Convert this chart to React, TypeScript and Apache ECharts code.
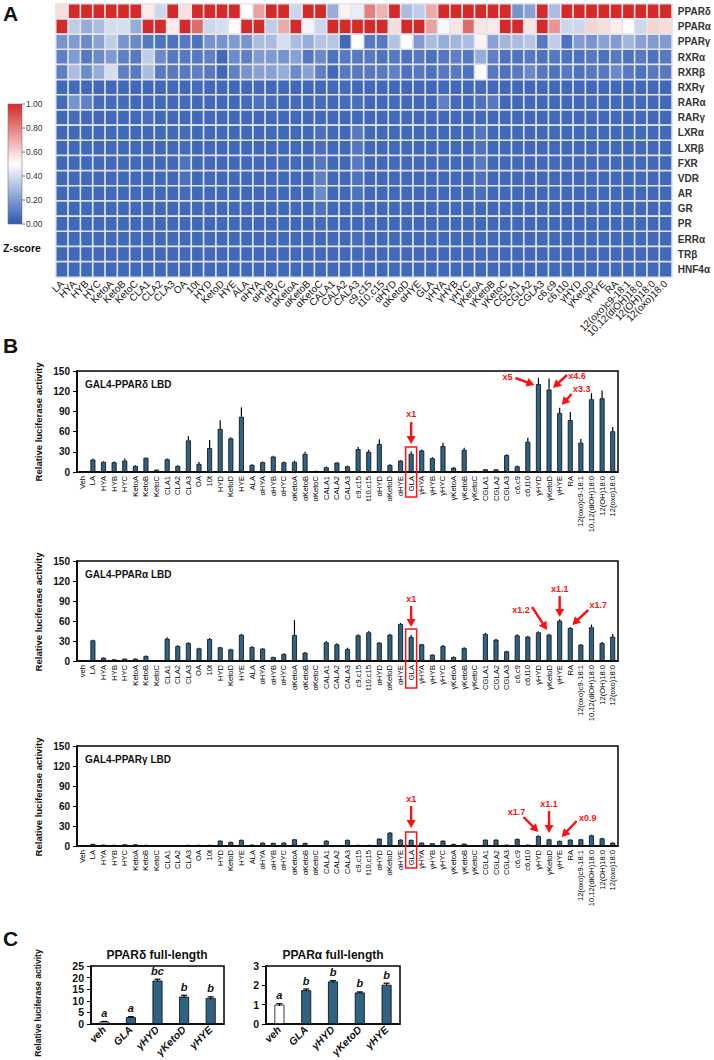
import React, { useEffect, useRef } from "react";
import * as echarts from "echarts";

const FONT = "'Liberation Sans', Arial, Helvetica, sans-serif";
const RED = "#ff1010";
const BAR = "#2f6283";

// ---------------- Panel A: heatmap ----------------
const heatCols = ["LA","HYA","HYB","HYC","KetoA","KetoB","KetoC","CLA1","CLA2","CLA3","OA","10t","HYD","KetoD","HYE","ALA","αHYA","αHYB","αHYC","αKetoA","αKetoB","αKetoC","CALA1","CALA2","CALA3","c9,c15","t10,c15","αHYD","αKetoD","αHYE","GLA","γHYA","γHYB","γHYC","γKetoA","γKetoB","γKetoC","CGLA1","CGLA2","CGLA3","c6,c9","c6,t10","γHYD","γKetoD","γHYE","RA","12(oxo)c9-18:1","10,12(diOH)18:0","12(OH)18:0","12(oxo)18:0"];
const heatRows = ["PPARδ","PPARα","PPARγ","RXRα","RXRβ","RXRγ","RARα","RARγ","LXRα","LXRβ","FXR","VDR","AR","GR","PR","ERRα","TRβ","HNF4α"];

const zPPARd = [0.58,1,1,1,1,1,1,0.55,0.38,1, 0.57,1,1,1,1,0.5,0.72,1,1,0.38, 1,1,0.25,0.53,0.45,0.8,0.68,1,0.3,0.35, 0.7,1,1,1,1,1,1,0.18,0.22,1, 0.3,1,1,1,1,1,1,1,1,1];
const zPPARa = [1,0.35,0.25,0.3,0.4,0.4,0.25,1,1,0.55, 1,0.85,0.38,0.4,0.5,1,1,0.35,0.7,1, 0.47,0.38,1,1,1,1,1,0.58,1,1, 0.72,0.48,0.56,0.85,0.56,0.55,1,1,0.56,1, 0.75,0.38,0.38,0.6,0.58,0.54,0.5,0.38,0.6,0.58];
const zPPARg = [0.18,0.2,0.15,0.22,0.35,0.18,0.15,0.1,0.08,0.08, 0.1,0.08,0.18,0.18,0.2,0.18,0.3,0.3,0.4,0.3, 0.25,0.32,0.33,0.05,0.5,0.1,0.1,0.32,0.5,0.2, 0.3,0.25,0.28,0.3,0.53,0.22,0.28,0.3,0.33,0.1, 0.35,0.08,0.2,0.18,0.22,0.2,0.28,0.22,0.2,0.2];
const zRXRa = [0.12,0.2,0.1,0.15,0.2,0.12,0.1,0.35,0.15,0.1, 0.1,0.1,0.12,0.05,0.15,0.12,0.2,0.2,0.18,0.22, 0.1,0.15,0.08,0.1,0.1,0.1,0.08,0.1,0.08,0.1, 0.08,0.1,0.12,0.1,0.25,0.12,0.08,0.08,0.1,0.08, 0.1,0.08,0.08,0.1,0.08,0.1,0.08,0.1,0.08,0.1];
const zRXRb = [0.12,0.3,0.15,0.25,0.4,0.12,0.1,0.3,0.1,0.1, 0.1,0.12,0.1,0.05,0.12,0.18,0.22,0.22,0.25,0.15, 0.22,0.12,0.05,0.1,0.1,0.1,0.1,0.12,0.08,0.1, 0.08,0.1,0.1,0.08,0.5,0.1,0.08,0.1,0.15,0.1, 0.08,0.1,0.08,0.1,0.1,0.15,0.1,0.08,0.1,0.1];
const zRXRg = [0.05,0.06,0.05,0.05,0.05,0.05,0.05,0.05,0.05,0.05, 0.05,0.06,0.05,0.05,0.05,0.05,0.06,0.05,0.05,0.05, 0.05,0.05,0.05,0.06,0.05,0.05,0.05,0.05,0.05,0.05, 0.05,0.05,0.05,0.05,0.06,0.05,0.05,0.05,0.05,0.05, 0.05,0.05,0.05,0.05,0.05,0.05,0.05,0.05,0.05,0.05];
const zRARa = [0.06,0.18,0.12,0.06,0.06,0.06,0.05,0.06,0.05,0.05, 0.06,0.05,0.05,0.05,0.05,0.06,0.08,0.06,0.05,0.06, 0.05,0.06,0.05,0.06,0.07,0.05,0.05,0.06,0.05,0.05, 0.05,0.12,0.06,0.05,0.08,0.1,0.05,0.05,0.05,0.05, 0.05,0.05,0.05,0.06,0.05,0.05,0.05,0.05,0.05,0.05];
const zRARg = [0.05,0.06,0.05,0.05,0.05,0.05,0.05,0.07,0.05,0.05, 0.05,0.05,0.05,0.05,0.05,0.05,0.05,0.05,0.05,0.05, 0.05,0.05,0.05,0.05,0.05,0.05,0.05,0.05,0.05,0.05, 0.05,0.05,0.05,0.05,0.05,0.05,0.05,0.05,0.05,0.05, 0.05,0.05,0.05,0.05,0.05,0.05,0.05,0.05,0.05,0.05];
const zLXRa = [0.05,0.05,0.05,0.05,0.05,0.05,0.05,0.05,0.05,0.05, 0.06,0.05,0.05,0.05,0.05,0.05,0.05,0.05,0.05,0.05, 0.05,0.07,0.05,0.05,0.1,0.05,0.05,0.05,0.05,0.05, 0.05,0.05,0.05,0.05,0.09,0.05,0.05,0.05,0.05,0.05, 0.05,0.05,0.05,0.05,0.05,0.05,0.05,0.05,0.05,0.05];
const zLXRb = [0.05,0.05,0.05,0.05,0.05,0.05,0.05,0.05,0.05,0.05, 0.06,0.05,0.05,0.05,0.05,0.05,0.05,0.05,0.05,0.05, 0.05,0.07,0.05,0.05,0.09,0.05,0.05,0.05,0.05,0.05, 0.05,0.05,0.05,0.05,0.08,0.05,0.05,0.05,0.05,0.05, 0.05,0.05,0.05,0.05,0.05,0.05,0.05,0.05,0.05,0.05];
const zFXR = [0.05,0.05,0.05,0.05,0.05,0.05,0.05,0.05,0.05,0.05, 0.08,0.05,0.05,0.05,0.05,0.05,0.05,0.05,0.05,0.05, 0.05,0.09,0.05,0.05,0.1,0.05,0.05,0.05,0.05,0.05, 0.05,0.05,0.05,0.05,0.1,0.05,0.05,0.05,0.05,0.05, 0.05,0.05,0.05,0.05,0.05,0.05,0.05,0.05,0.05,0.05];
const zVDR = [0.05,0.05,0.05,0.05,0.05,0.05,0.05,0.05,0.05,0.05, 0.07,0.05,0.05,0.05,0.05,0.05,0.05,0.05,0.05,0.05, 0.05,0.12,0.05,0.05,0.08,0.05,0.05,0.05,0.05,0.05, 0.05,0.05,0.05,0.05,0.08,0.05,0.05,0.05,0.05,0.05, 0.05,0.05,0.05,0.05,0.05,0.05,0.05,0.05,0.05,0.05];
const zAR = [0.05,0.05,0.05,0.05,0.05,0.05,0.05,0.05,0.05,0.05, 0.06,0.05,0.05,0.05,0.05,0.05,0.05,0.05,0.05,0.05, 0.05,0.15,0.05,0.05,0.08,0.05,0.05,0.05,0.05,0.05, 0.05,0.05,0.05,0.05,0.07,0.05,0.05,0.05,0.05,0.05, 0.05,0.05,0.05,0.05,0.05,0.05,0.05,0.05,0.05,0.05];
const zGR = [0.05,0.05,0.05,0.05,0.05,0.05,0.05,0.05,0.05,0.05, 0.05,0.05,0.05,0.05,0.05,0.05,0.05,0.05,0.05,0.05, 0.05,0.08,0.05,0.05,0.06,0.05,0.05,0.05,0.05,0.05, 0.05,0.05,0.05,0.05,0.05,0.05,0.05,0.05,0.05,0.05, 0.05,0.05,0.05,0.05,0.05,0.05,0.05,0.05,0.05,0.05];
const zPR = [0.05,0.05,0.05,0.05,0.05,0.05,0.05,0.05,0.05,0.05, 0.05,0.05,0.05,0.05,0.05,0.05,0.05,0.05,0.05,0.05, 0.05,0.06,0.05,0.05,0.05,0.05,0.05,0.05,0.05,0.05, 0.05,0.05,0.05,0.05,0.05,0.05,0.05,0.05,0.05,0.05, 0.05,0.05,0.05,0.05,0.05,0.05,0.05,0.05,0.05,0.05];
const zERRa = [0.05,0.05,0.05,0.05,0.05,0.05,0.05,0.05,0.05,0.05, 0.05,0.05,0.05,0.05,0.05,0.05,0.05,0.05,0.05,0.05, 0.05,0.05,0.05,0.05,0.06,0.05,0.05,0.05,0.05,0.05, 0.05,0.05,0.05,0.05,0.05,0.05,0.05,0.05,0.05,0.05, 0.05,0.05,0.05,0.05,0.05,0.05,0.05,0.05,0.05,0.05];
const zTRb = [0.05,0.05,0.05,0.05,0.05,0.05,0.05,0.05,0.05,0.05, 0.05,0.05,0.05,0.05,0.05,0.05,0.05,0.05,0.05,0.05, 0.05,0.05,0.05,0.05,0.05,0.05,0.05,0.05,0.05,0.05, 0.05,0.05,0.05,0.05,0.05,0.05,0.05,0.05,0.05,0.05, 0.05,0.05,0.05,0.05,0.05,0.05,0.05,0.05,0.05,0.05];
const zHNF4a = [0.05,0.05,0.05,0.05,0.05,0.05,0.05,0.05,0.05,0.05, 0.05,0.05,0.05,0.05,0.05,0.05,0.05,0.05,0.05,0.05, 0.05,0.05,0.05,0.05,0.05,0.05,0.05,0.05,0.05,0.05, 0.05,0.05,0.05,0.05,0.05,0.05,0.05,0.05,0.05,0.05, 0.05,0.05,0.05,0.05,0.05,0.05,0.05,0.05,0.05,0.05];
const heatMatrix = [zPPARd, zPPARa, zPPARg, zRXRa, zRXRb, zRXRg, zRARa, zRARg, zLXRa, zLXRb, zFXR, zVDR, zAR, zGR, zPR, zERRa, zTRb, zHNF4a];
const colorbarTicks = ["1.00", "0.80", "0.60", "0.40", "0.20", "0.00"];

// ---------------- Panel B: LBD luciferase ----------------
const bCatsD = ["Veh", ...heatCols];
const bCatsA = ["veh", ...heatCols];
const bCatsG = ["Veh", ...heatCols];
const lbdD = [1,18.5,15,14.5,17,9,21,3.5,19,9, 47,12,35.5,64,50,82,10.5,14.5,23,14.5, 15,27,1.5,7,14,8.5,34,30,41.5,10.5, 17,27,32,20.5,38.5,6.5,33,1.5,4,4, 25,8.5,45,130.5,122.5,87.5,77,43.5,108,109.5, 60.5];
const lbdDErr = [0.3,1.5,1,1,3,1,1,0.5,1,1, 6,3,12,13,1.5,14,1,1,1,1, 2,3,0.5,1,1,1,3,3,7,1, 1,4,1.5,1.5,5,1,3,0.3,0.5,0.5, 1.5,1,6,9.5,16.5,8,12,6,9,11.5, 6.5];
const lbdA = [1,31,5,2.5,3.5,3.5,7.5,0.5,33.5,22.5, 27,19,33,20.5,17.5,39.5,21,18.5,6,10.5, 39,12.5,0.5,28,25,18,38.5,43,27.5,39.5, 55.5,36,25,9.5,22.5,6,19.5,1,40.5,32, 14.5,38.5,36.5,43,39.5,60.5,49.5,24.5,50.5,27, 36.5];
const lbdAErr = [0.2,1,0.8,0.5,0.5,0.5,0.8,0.2,2,1, 1,1,1.5,1,1,1.5,1,1,0.5,1, 22.5,1,0.2,2,1.5,2,1.5,2,1,1.5, 1.5,3,1,0.8,1.5,0.8,1,0.3,1.5,1.5, 1,1.5,1.5,1.5,1.5,2,1.5,1,4,1.5, 4];
const lbdG = [1,3,2,1.5,2.5,2.5,1.5,0.5,1,1, 1.5,1.5,1.5,8,6,9,2,5,4.5,5, 10,4.5,0.5,8,1,9,1.5,1.5,11,20, 9.5,9,5,4,8,3,3.5,0.5,9.5,9.5, 2,10.5,2,15,10,7.5,9.5,10,16,11.5, 5];
const lbdGErr = [0.2,0.5,0.3,0.3,0.4,0.4,0.3,0.2,0.3,0.3, 0.3,0.3,0.3,0.8,0.6,0.8,0.4,0.5,0.5,0.5, 0.8,0.5,0.2,0.6,0.3,0.7,0.3,0.3,0.8,1, 0.7,0.7,0.5,0.5,0.6,0.4,0.4,0.2,0.6,0.6, 0.4,0.6,0.4,1,0.7,0.6,0.6,0.6,1,0.8, 0.5];

// ---------------- Panel C: full-length ----------------
const cCats = ["veh", "GLA", "γHYD", "γKetoD", "γHYE"];
const fullD = [1, 3, 18.7, 11.8, 11.2];
const fullDErr = [0.1, 0.15, 0.6, 0.6, 0.5];
const fullDSig = ["a", "a", "bc", "b", "b"];
const fullA = [1.0, 1.75, 2.2, 1.63, 2.03];
const fullAErr = [0.05, 0.06, 0.04, 0.03, 0.08];
const fullASig = ["a", "b", "b", "b", "b"];

// annotation layout (offsets in px from category centre / zero line)
type Arrow = { label: string; cat: string; text: number[]; tail: number[]; tip: number[] };
const annB: { axis: number; box: number[]; arrows: Arrow[] }[] = [
  { axis: 1, box: [-25, 25], arrows: [
    { label: "x1", cat: "GLA", text: [0, -58], tail: [0, -50], tip: [0, -28] },
    { label: "x5", cat: "γHYD", text: [-31, -95], tail: [-23, -94], tip: [-4, -87] },
    { label: "x4.6", cat: "γKetoD", text: [28, -96], tail: [18, -97], tip: [4, -84] },
    { label: "x3.3", cat: "γHYE", text: [22, -83], tail: [12, -78], tip: [2, -67] },
  ]},
  { axis: 2, box: [-32, 27], arrows: [
    { label: "x1", cat: "GLA", text: [0, -62], tail: [0, -55], tip: [0, -34] },
    { label: "x1.2", cat: "γKetoD", text: [-28, -51], tail: [-17, -54], tip: [-2, -31] },
    { label: "x1.1", cat: "γHYE", text: [0, -72], tail: [0, -65], tip: [0, -44] },
    { label: "x1.7", cat: "RA", text: [28, -56], tail: [18, -51], tip: [2, -36] },
  ]},
  { axis: 3, box: [-14, 22], arrows: [
    { label: "x1", cat: "GLA", text: [0, -47], tail: [0, -40], tip: [0, -18] },
    { label: "x1.7", cat: "γHYD", text: [-22, -34], tail: [-15, -29], tip: [0, -14] },
    { label: "x1.1", cat: "γKetoD", text: [0, -42], tail: [0, -35], tip: [0, -13] },
    { label: "x0.9", cat: "γHYE", text: [28, -28], tail: [17, -25], tip: [2, -9] },
  ]},
];

const errRender = (cap: number, sig?: string[]) => (params: any, api: any) => {
  const i = api.value(0);
  const v = api.value(1);
  const e = api.value(2);
  const top = api.coord([i, v + e]);
  const bot = api.coord([i, cap > 0 ? v - e : v]);
  const children: any[] = [
    { type: "line", shape: { x1: top[0], y1: top[1], x2: bot[0], y2: bot[1] }, style: { stroke: "#000", lineWidth: 1.2 } },
  ];
  if (cap > 0) {
    children.push({ type: "line", shape: { x1: top[0] - cap, y1: top[1], x2: top[0] + cap, y2: top[1] }, style: { stroke: "#000", lineWidth: 1.2 } });
  }
  if (sig) {
    children.push({ type: "text", x: top[0], y: top[1] - 3, style: { text: sig[params.dataIndex], fontFamily: FONT, fontSize: 11, fontStyle: "italic", fontWeight: "bold", fill: "#111", align: "center", verticalAlign: "bottom" } });
  }
  return { type: "group", children };
};

const bGridTops = [371, 561, 746];

export default function App() {
  const ref = useRef<HTMLDivElement>(null);
  useEffect(() => {
    if (!ref.current) return;
    const chart = echarts.init(ref.current, undefined, { renderer: "svg" });

    const heatData: number[][] = [];
    heatMatrix.forEach((row, r) => row.forEach((v, c) => heatData.push([c, r, v])));

    const bAxisX = (idx: number, data: string[]) => ({
      type: "category", gridIndex: idx, data,
      axisLine: { lineStyle: { color: "#000", width: 1.5 } },
      axisTick: { show: false },
      axisLabel: { rotate: 90, interval: 0, fontSize: 7.6, color: "#000", margin: 4, fontFamily: FONT },
    });
    const bAxisY = (idx: number) => ({
      type: "value", gridIndex: idx, min: 0, max: 150, interval: 30,
      axisLine: { show: true, lineStyle: { color: "#000", width: 1.5 } },
      axisTick: { show: true, length: 4, lineStyle: { color: "#000" } },
      splitLine: { show: false },
      axisLabel: { fontSize: 10, fontWeight: "bold", color: "#111", margin: 7, fontFamily: FONT },
    });
    const cAxisX = (idx: number) => ({
      type: "category", gridIndex: idx, data: cCats,
      axisLine: { lineStyle: { color: "#000", width: 1.5 } },
      axisTick: { show: false },
      axisLabel: { rotate: 45, interval: 0, fontSize: 10.5, fontStyle: "italic", fontWeight: "bold", color: "#111", margin: 4, fontFamily: FONT },
    });
    const cAxisY = (idx: number, max: number, interval: number) => ({
      type: "value", gridIndex: idx, min: 0, max, interval,
      axisLine: { show: true, lineStyle: { color: "#000", width: 1.5 } },
      axisTick: { show: true, length: 4, lineStyle: { color: "#000" } },
      splitLine: { show: false },
      axisLabel: { fontSize: 10.5, fontWeight: "bold", color: "#111", margin: 7, fontFamily: FONT },
    });
    const barSeries = (idx: number, data: any[], width: number) => ({
      type: "bar", xAxisIndex: idx, yAxisIndex: idx, data, barWidth: width,
      itemStyle: { color: BAR, borderColor: "#0a0a0a", borderWidth: 0.8 },
      emphasis: { disabled: true },
    });
    const errSeries = (idx: number, vals: number[], errs: number[], cap: number, sig?: string[]) => ({
      type: "custom", xAxisIndex: idx, yAxisIndex: idx,
      data: vals.map((v, i) => [i, v, errs[i]]),
      renderItem: errRender(cap, sig), z: 5, silent: true,
    });
    const gridBox = { show: true, borderColor: "#000", borderWidth: 1.5, backgroundColor: "transparent" };
    const cItems = (vals: number[]) => vals.map((v, i) => (i === 0 ? { value: v, itemStyle: { color: "#fff" } } : v));

    chart.setOption({
      animation: false,
      textStyle: { fontFamily: FONT },
      grid: [
        { left: 56, top: 4, width: 617, height: 273 },
        { left: 77, top: bGridTops[0], width: 541, height: 101, ...gridBox },
        { left: 77, top: bGridTops[1], width: 541, height: 100, ...gridBox },
        { left: 77, top: bGridTops[2], width: 541, height: 100, ...gridBox },
        { left: 91, top: 966, width: 133, height: 77, ...gridBox },
        { left: 266, top: 966, width: 134, height: 77, ...gridBox },
      ],
      xAxis: [
        { type: "category", gridIndex: 0, data: heatCols, axisLine: { show: false }, axisTick: { show: false },
          axisLabel: { rotate: 45, interval: 0, fontSize: 10, color: "#111", margin: 5, fontFamily: FONT } },
        bAxisX(1, bCatsD), bAxisX(2, bCatsA), bAxisX(3, bCatsG),
        cAxisX(4), cAxisX(5),
      ],
      yAxis: [
        { type: "category", gridIndex: 0, data: heatRows, inverse: true, position: "right",
          axisLine: { show: false }, axisTick: { show: false },
          axisLabel: { fontSize: 10, fontWeight: "bold", color: "#333", margin: 6, fontFamily: FONT } },
        bAxisY(1), bAxisY(2), bAxisY(3),
        cAxisY(4, 25, 5), cAxisY(5, 3, 1),
      ],
      visualMap: {
        show: false, min: 0, max: 1, seriesIndex: 0, calculable: false,
        inRange: { color: ["#2c58b2", "#ffffff", "#d42a2a"] },
      },
      series: [
        { type: "heatmap", xAxisIndex: 0, yAxisIndex: 0, data: heatData,
          itemStyle: { borderColor: "#e2e5ec", borderWidth: 1.6 }, emphasis: { disabled: true } },
        barSeries(1, lbdD, 5), errSeries(1, lbdD, lbdDErr, 0),
        barSeries(2, lbdA, 5), errSeries(2, lbdA, lbdAErr, 0),
        barSeries(3, lbdG, 5), errSeries(3, lbdG, lbdGErr, 0),
        barSeries(4, cItems(fullD), 10), errSeries(4, fullD, fullDErr, 3, fullDSig),
        barSeries(5, cItems(fullA), 10), errSeries(5, fullA, fullAErr, 3, fullASig),
      ],
    });

    const txt = (x: number, y: number, text: string, o: any = {}) => ({
      type: "text", x, y, silent: true, rotation: o.rotation || 0,
      style: { text, fontFamily: FONT, fontSize: o.size || 10, fontWeight: o.weight || "normal", fontStyle: o.style || "normal",
        fill: o.fill || "#111", align: o.align || "left", verticalAlign: o.va || "middle" },
    });
    const g: any[] = [];
    g.push(txt(3, 13, "A", { size: 21, weight: "bold" }));
    g.push(txt(3, 345, "B", { size: 21, weight: "bold" }));
    g.push(txt(3, 938, "C", { size: 21, weight: "bold" }));
    g.push({ type: "rect", silent: true, shape: { x: 8, y: 104, width: 14, height: 120 },
      style: { fill: new echarts.graphic.LinearGradient(0, 0, 0, 1, [
        { offset: 0, color: "#d42a2a" }, { offset: 0.5, color: "#ffffff" }, { offset: 1, color: "#2c58b2" }]),
        stroke: "#777", lineWidth: 0.6 } });
    colorbarTicks.forEach((t, i) => {
      const y = 104 + i * 24;
      g.push({ type: "line", silent: true, shape: { x1: 22, y1: y, x2: 25, y2: y }, style: { stroke: "#555", lineWidth: 0.8 } });
      g.push(txt(26, y, t, { size: 8.5, fill: "#333" }));
    });
    g.push(txt(3, 248, "Z-score", { size: 10.5, weight: "bold" }));
    const bTitles = ["GAL4-PPARδ LBD", "GAL4-PPARα LBD", "GAL4-PPARγ LBD"];
    bGridTops.forEach((t, i) => {
      g.push(txt(85, t + 13, bTitles[i], { size: 10, weight: "bold" }));
      g.push(txt(38, t + 51, "Relative luciferase activity", { size: 9.5, weight: "bold", rotation: Math.PI / 2, align: "center" }));
    });
    g.push(txt(38, 1003, "Relative luciferase activity", { size: 8.6, weight: "bold", rotation: Math.PI / 2, align: "center" }));
    g.push(txt(157, 955, "PPARδ full-length", { size: 12, weight: "bold", align: "center" }));
    g.push(txt(333, 955, "PPARα full-length", { size: 12, weight: "bold", align: "center" }));

    const arrow = (x1: number, y1: number, x2: number, y2: number) => {
      const dx = x2 - x1, dy = y2 - y1;
      const L = Math.hypot(dx, dy) || 1;
      const ux = dx / L, uy = dy / L;
      const hl = 8, hw = 4.5;
      const bx = x2 - ux * hl, by = y2 - uy * hl;
      return [
        { type: "line", silent: true, shape: { x1, y1, x2: bx + ux, y2: by + uy }, style: { stroke: RED, lineWidth: 2.4 } },
        { type: "polygon", silent: true, shape: { points: [[x2, y2], [bx - uy * hw, by + ux * hw], [bx + uy * hw, by - ux * hw]] }, style: { fill: RED } },
      ];
    };
    annB.forEach((a) => {
      const px = (cat: string, v: number) => chart.convertToPixel({ xAxisIndex: a.axis, yAxisIndex: a.axis } as any, [cat, v]) as number[];
      const y0 = px("GLA", 0)[1];
      const gx = px("GLA", 0)[0];
      g.push({ type: "rect", silent: true, shape: { x: gx - 5.5, y: y0 + a.box[0], width: 11, height: a.box[1] - a.box[0] },
        style: { fill: "none", stroke: RED, lineWidth: 1.5 }, z: 10 });
      a.arrows.forEach((ar) => {
        const cx = px(ar.cat, 0)[0];
        g.push(txt(cx + ar.text[0], y0 + ar.text[1], ar.label, { size: 9, weight: "bold", fill: RED, align: "center" }));
        g.push(...arrow(cx + ar.tail[0], y0 + ar.tail[1], cx + ar.tip[0], y0 + ar.tip[1]));
      });
    });

    chart.setOption({ graphic: g });
    return () => chart.dispose();
  }, []);
  return <div ref={ref} style={{ position: "absolute", left: 0, top: 0, width: 714, height: 1060, background: "#fff" }} />;
}
